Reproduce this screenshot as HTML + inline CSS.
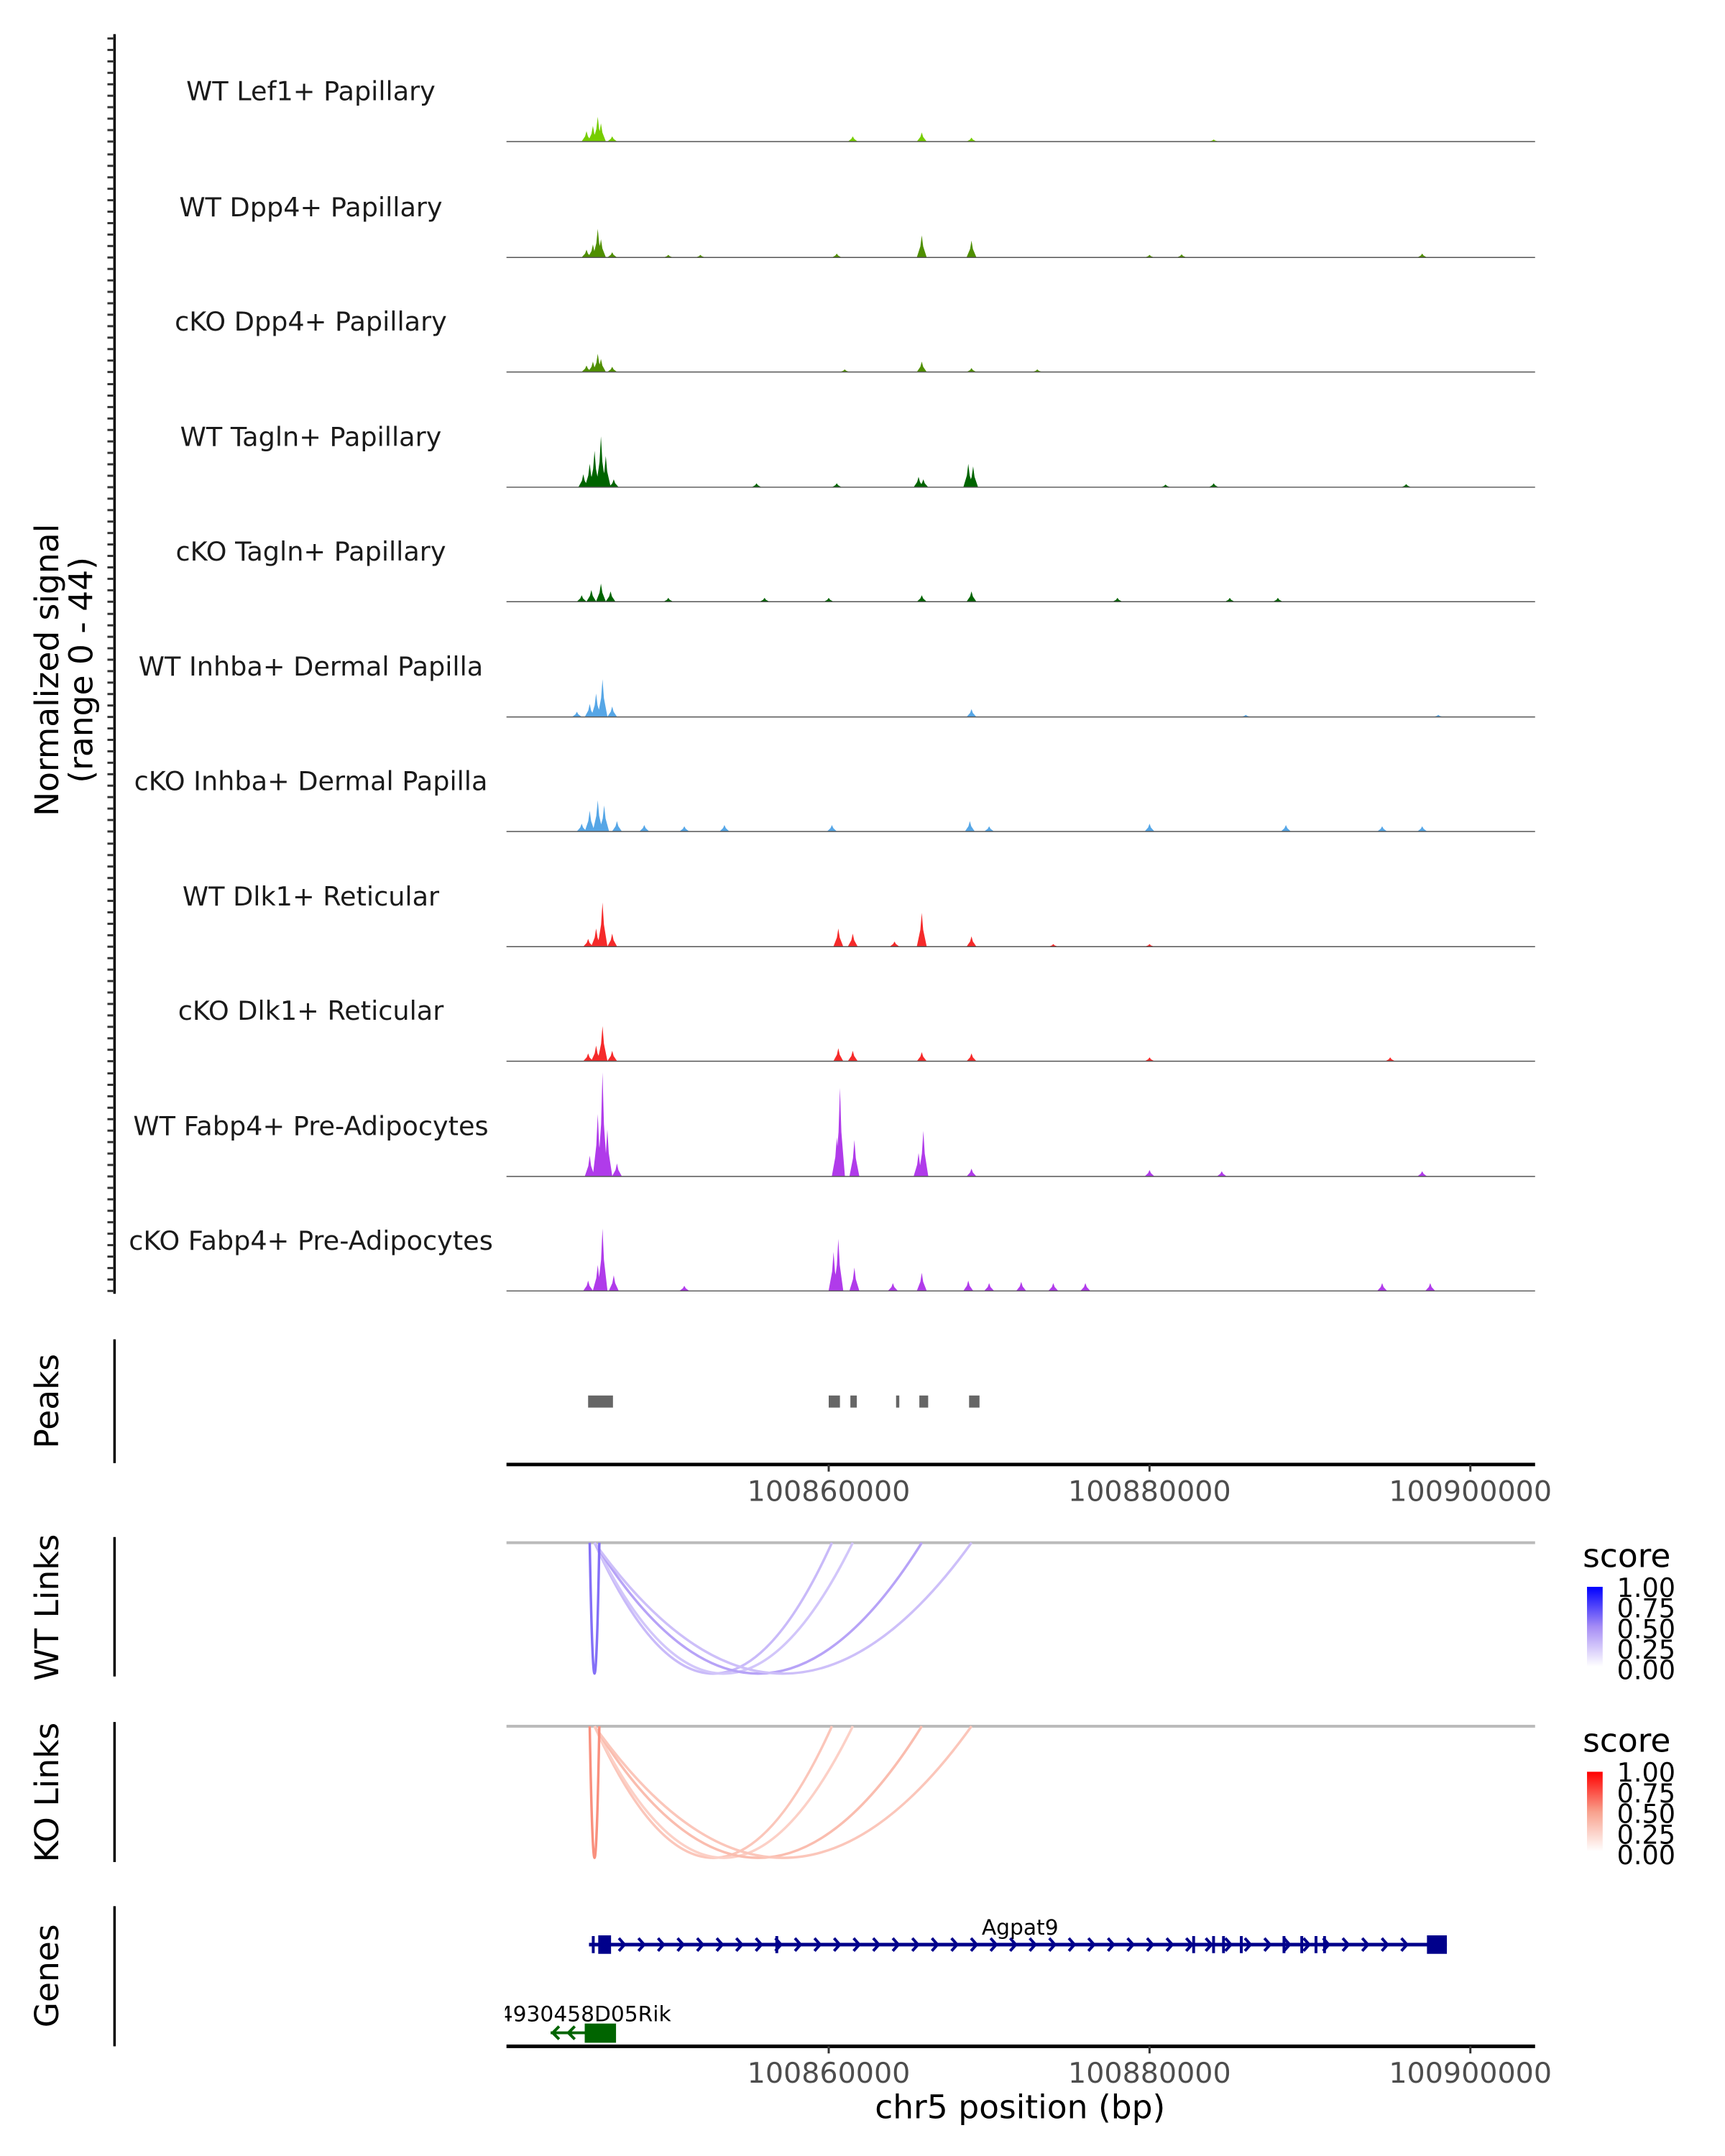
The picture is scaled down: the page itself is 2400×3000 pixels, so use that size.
<!DOCTYPE html>
<html><head><meta charset="utf-8"><style>
html,body{margin:0;padding:0;background:#fff}
svg{display:block;font-family:"DejaVu Sans","Liberation Sans",sans-serif}
</style></head><body>
<svg id="chart" width="2400" height="3000" viewBox="0 0 2400 3000" xmlns="http://www.w3.org/2000/svg">
<g id="root" transform="scale(0.9897)">
<g id="tracks"></g>
<g id="axes"></g>
<text transform="translate(82,942) rotate(-90)" text-anchor="middle" font-size="46">Normalized signal</text>
<text transform="translate(130,942) rotate(-90)" text-anchor="middle" font-size="46">(range 0 - 44)</text>
<text transform="translate(82,1970) rotate(-90)" text-anchor="middle" font-size="46">Peaks</text>
<text transform="translate(82,2260) rotate(-90)" text-anchor="middle" font-size="46">WT Links</text>
<text transform="translate(82,2520) rotate(-90)" text-anchor="middle" font-size="46">KO Links</text>
<text transform="translate(82,2778) rotate(-90)" text-anchor="middle" font-size="46">Genes</text>
<text x="1434" y="2978" text-anchor="middle" font-size="46">chr5 position (bp)</text>
</g>
</svg>
<script>
const NS="http://www.w3.org/2000/svg";
const xTicks=[100860000,100880000,100900000];
const trackNames=["WT Lef1+ Papillary","WT Dpp4+ Papillary","cKO Dpp4+ Papillary","WT Tagln+ Papillary","cKO Tagln+ Papillary","WT Inhba+ Dermal Papilla","cKO Inhba+ Dermal Papilla","WT Dlk1+ Reticular","cKO Dlk1+ Reticular","WT Fabp4+ Pre-Adipocytes","cKO Fabp4+ Pre-Adipocytes"];
const trackColors=["#76cd00","#4f8f00","#4f8f00","#006400","#006400","#56a6e6","#56a6e6","#f52a2a","#f52a2a","#b03bea","#b03bea"];
// peak positions in bp and heights (signal units, 0-44)
const peakPos=[
[100844900,100845300,100845600,100845800,100846500,100861500,100865800,100868900,100884000],
[100844900,100845300,100845600,100845800,100846500,100850000,100852000,100860500,100865800,100868900,100880000,100882000,100897000],
[100844900,100845300,100845600,100845800,100846500,100865800,100868900,100861000,100873000],
[100844700,100845100,100845400,100845800,100846100,100846600,100855500,100860500,100865600,100865900,100868700,100869000,100881000,100884000,100896000],
[100844600,100845200,100845800,100846400,100850000,100856000,100860000,100865800,100868900,100878000,100885000,100888000],
[100844300,100845100,100845500,100845900,100846500,100868900,100886000,100898000],
[100844600,100845100,100845600,100846000,100846800,100848500,100851000,100853500,100860200,100868800,100870000,100880000,100888500,100894500,100897000],
[100845000,100845500,100845900,100846500,100860600,100861500,100864100,100865800,100868900,100874000,100880000],
[100845000,100845500,100845900,100846500,100860600,100861500,100865800,100868900,100880000,100895000],
[100845100,100845600,100845900,100846200,100846800,100860500,100860700,100861600,100865600,100865900,100868900,100880000,100884500,100897000],
[100845000,100845600,100845900,100846600,100851000,100860300,100860600,100861600,100864000,100865800,100868700,100870000,100872000,100874000,100876000,100894500,100897500]
];
const peakVal=[
[4,6,9.5,7,2,2,3.5,1.5,0.8],
[3,5,11,7,2,1,1,1.5,8.5,6.5,1,1.2,1.5],
[2.5,4,7,5,2,4,1.5,1,1],
[5,9,14,19.5,12,3,1.5,1.5,4,3,9,8,1,1.5,1.2],
[2.5,4.5,7,4,1.5,1.5,1.5,2.5,4,1.5,1.5,1.5],
[2,5,9,14.5,4,3,0.8,0.8],
[3,8,12,10,4,2.5,2,2.5,2.5,4,2,3,2.5,2,2],
[3,7,17,5,7,5,2,13,4,1,1],
[3,6,13.5,4,5,4,3.5,3,1.5,1.5],
[8,24,40,18,5,15,34,14,9,17.5,3,2.5,2,2],
[4,10,24,6,2,15,20,9,3,7,4,3,3.5,3,3,3,3]
];
const linkStart=[100845400,100845400,100845400,100845400,100845100];
const linkEnd=[100860200,100861500,100865800,100868900,100845700];
const wtScore=[0.3,0.25,0.4,0.28,0.6];
const koScore=[0.3,0.25,0.35,0.3,0.55];
const peakStart=[100845000,100860000,100861350,100864200,100865650,100868750];
const peakEnd=[100846550,100860700,100861750,100864400,100866200,100869400];
const legendTicks=["1.00","0.75","0.50","0.25","0.00"];

const X0=712,X1=2158;
function xs(p){return 1165+(p-100860000)*451/20000;}
const baselines=[199,362,523,685,846,1008,1169,1331,1492,1654,1815];
const trackH=161;
function ys(v,b){return b-v/44*trackH;}
function el(tag,attrs,parent){const e=document.createElementNS(NS,tag);for(const k in attrs)e.setAttribute(k,attrs[k]);parent.appendChild(e);return e;}
const tg=document.getElementById('tracks');
const ax=document.getElementById('axes');

trackNames.forEach((name,i)=>{
  const b=baselines[i];
  const g=el('g',{},tg);
  
  
  const t=el('text',{x:437,y:b-58,'text-anchor':'middle','font-size':37,fill:'#1a1a1a'},g);
  t.textContent=name;
  
  
  let d='';
  peakPos[i].forEach((p,j)=>{
    const x=xs(p),y=ys(peakVal[i][j],b);
    d+=`M${(x-7).toFixed(1)},${b}L${(x-2).toFixed(1)},${((y+b)/2).toFixed(1)}L${x.toFixed(1)},${y.toFixed(1)}L${(x+2).toFixed(1)},${((y+b)/2).toFixed(1)}L${(x+7).toFixed(1)},${b}Z`;
  });
  const pa=el('path',{d:d,fill:trackColors[i]},g);
  
  
  const bl=el('line',{x1:X0,x2:X1,y1:b,y2:b,stroke:'#555','stroke-width':1.5},g);
  
  
});
const la=el('line',{x1:161,x2:161,y1:48,y2:1819,stroke:'#000','stroke-width':3.5},ax);


for(let i=0;i<baselines.length;i++){
  for(let k=0;k<10;k++){
    const y=baselines[i]-k*trackH/10;
    const tk=el('line',{x1:151,x2:161,y1:y,y2:y,stroke:'#333','stroke-width':3},ax);
    
    
  }
}
[[1883,2057],[2161,2357],[2421,2618],[2680,2877]].forEach(r=>{
  const l=el('line',{x1:161,x2:161,y1:r[0],y2:r[1],stroke:'#000','stroke-width':3.5},ax);
  
  
});
peakStart.forEach((s,i)=>{
  const r=el('rect',{x:xs(s),y:1962,width:Math.max(3,xs(peakEnd[i])-xs(s)),height:17,fill:'#666'},ax);
  
  
});
[[2059,2098],[2877,2916]].forEach(a=>{
  const l=el('line',{x1:X0,x2:X1,y1:a[0],y2:a[0],stroke:'#000','stroke-width':5},ax);
  
  
  xTicks.forEach(t=>{
    const tk=el('line',{x1:xs(t),x2:xs(t),y1:a[0],y2:a[0]+10,stroke:'#333','stroke-width':3},ax);
    
    
    const tl=el('text',{x:xs(t),y:a[1]+12,'text-anchor':'middle','font-size':40,fill:'#4d4d4d'},ax);
    tl.textContent=t;
    
    
  });
});
function links(top,bottom,scores,cMid,cEnd,legY,nm){
  const g=el('g',{},ax);
  
  
  const base=el('line',{x1:X0,x2:X1,y1:top,y2:top,stroke:'#bbb','stroke-width':4},g);
  
  
  const W=[255,255,255];
  function mix(s){let a;if(s<0.5){a=W.map((v,k)=>Math.round(v+(cMid[k]-v)*s/0.5));}else{a=cMid.map((v,k)=>Math.round(v+(cEnd[k]-v)*(s-0.5)/0.5));}return `rgb(${a})`;}
  linkStart.forEach((s,i)=>{
    const x1=xs(s),x2=xs(linkEnd[i]);
    const cy=top+2*(bottom-top);
    const p=el('path',{d:`M${x1},${top}Q${(x1+x2)/2},${cy} ${x2},${top}`,fill:'none',stroke:mix(scores[i]),'stroke-width':3.5},g);
    
    
  });
  const lt=el('text',{x:2225,y:legY,'font-size':46},g);
  lt.textContent='score';
  
  
  const gid='gr'+nm;
  const defs=el('defs',{},g);
  const lg=el('linearGradient',{id:gid,x1:0,y1:1,x2:0,y2:0},defs);
  el('stop',{offset:0,'stop-color':mix(0)},lg);el('stop',{offset:0.5,'stop-color':mix(0.5)},lg);el('stop',{offset:1,'stop-color':mix(1)},lg);
  const cb=el('rect',{x:2231,y:legY+28,width:22,height:112,fill:`url(#${gid})`},g);
  
  
  legendTicks.forEach((t,k)=>{
    const tx=el('text',{x:2273,y:legY+42+k*29,'font-size':37},g);
    tx.textContent=t;
    
    
  });
}
links(2169,2353,wtScore,[165,140,245],[0,0,255],2203,'wt-links');
links(2427,2612,koScore,[248,160,140],[255,0,0],2463,'ko-links');
const gg=el('g',{},ax);


const gy=2734;
el('line',{x1:828,x2:2034,y1:gy,y2:gy,stroke:'#00008b','stroke-width':5},gg);
el('rect',{x:841,y:gy-13,width:18,height:26,fill:'#00008b'},gg);
el('rect',{x:2006,y:gy-13,width:28,height:26,fill:'#00008b'},gg);
[834,1092,1678,1706,1720,1745,1805,1830,1850,1862].forEach(x=>el('line',{x1:x,x2:x,y1:gy-12,y2:gy+12,stroke:'#00008b','stroke-width':4},gg));
let cd='';
for(let x=875;x<2000;x+=27.5){cd+=`M${x-5},${gy-9}L${x+3},${gy}L${x-5},${gy+9}`;}
el('path',{d:cd,fill:'none',stroke:'#00008b','stroke-width':4},gg);
const gl=el('text',{x:1434,y:2720,'text-anchor':'middle','font-size':30},gg);
gl.textContent='Agpat9';
const g2=el('g',{},ax);


el('line',{x1:774,x2:826,y1:2858,y2:2858,stroke:'#006400','stroke-width':4},g2);
el('rect',{x:822,y:2845,width:44,height:27,fill:'#006400'},g2);
el('path',{d:'M786,2849L777,2858L786,2867M808,2849L799,2858L808,2867',fill:'none',stroke:'#006400','stroke-width':4},g2);
const g2l=el('text',{x:702,y:2842,'font-size':30},g2);
g2l.textContent='4930458D05Rik';
const cp=el('rect',{x:300,y:2800,width:410,height:60,fill:'#fff'},g2);


</script>
</body></html>
